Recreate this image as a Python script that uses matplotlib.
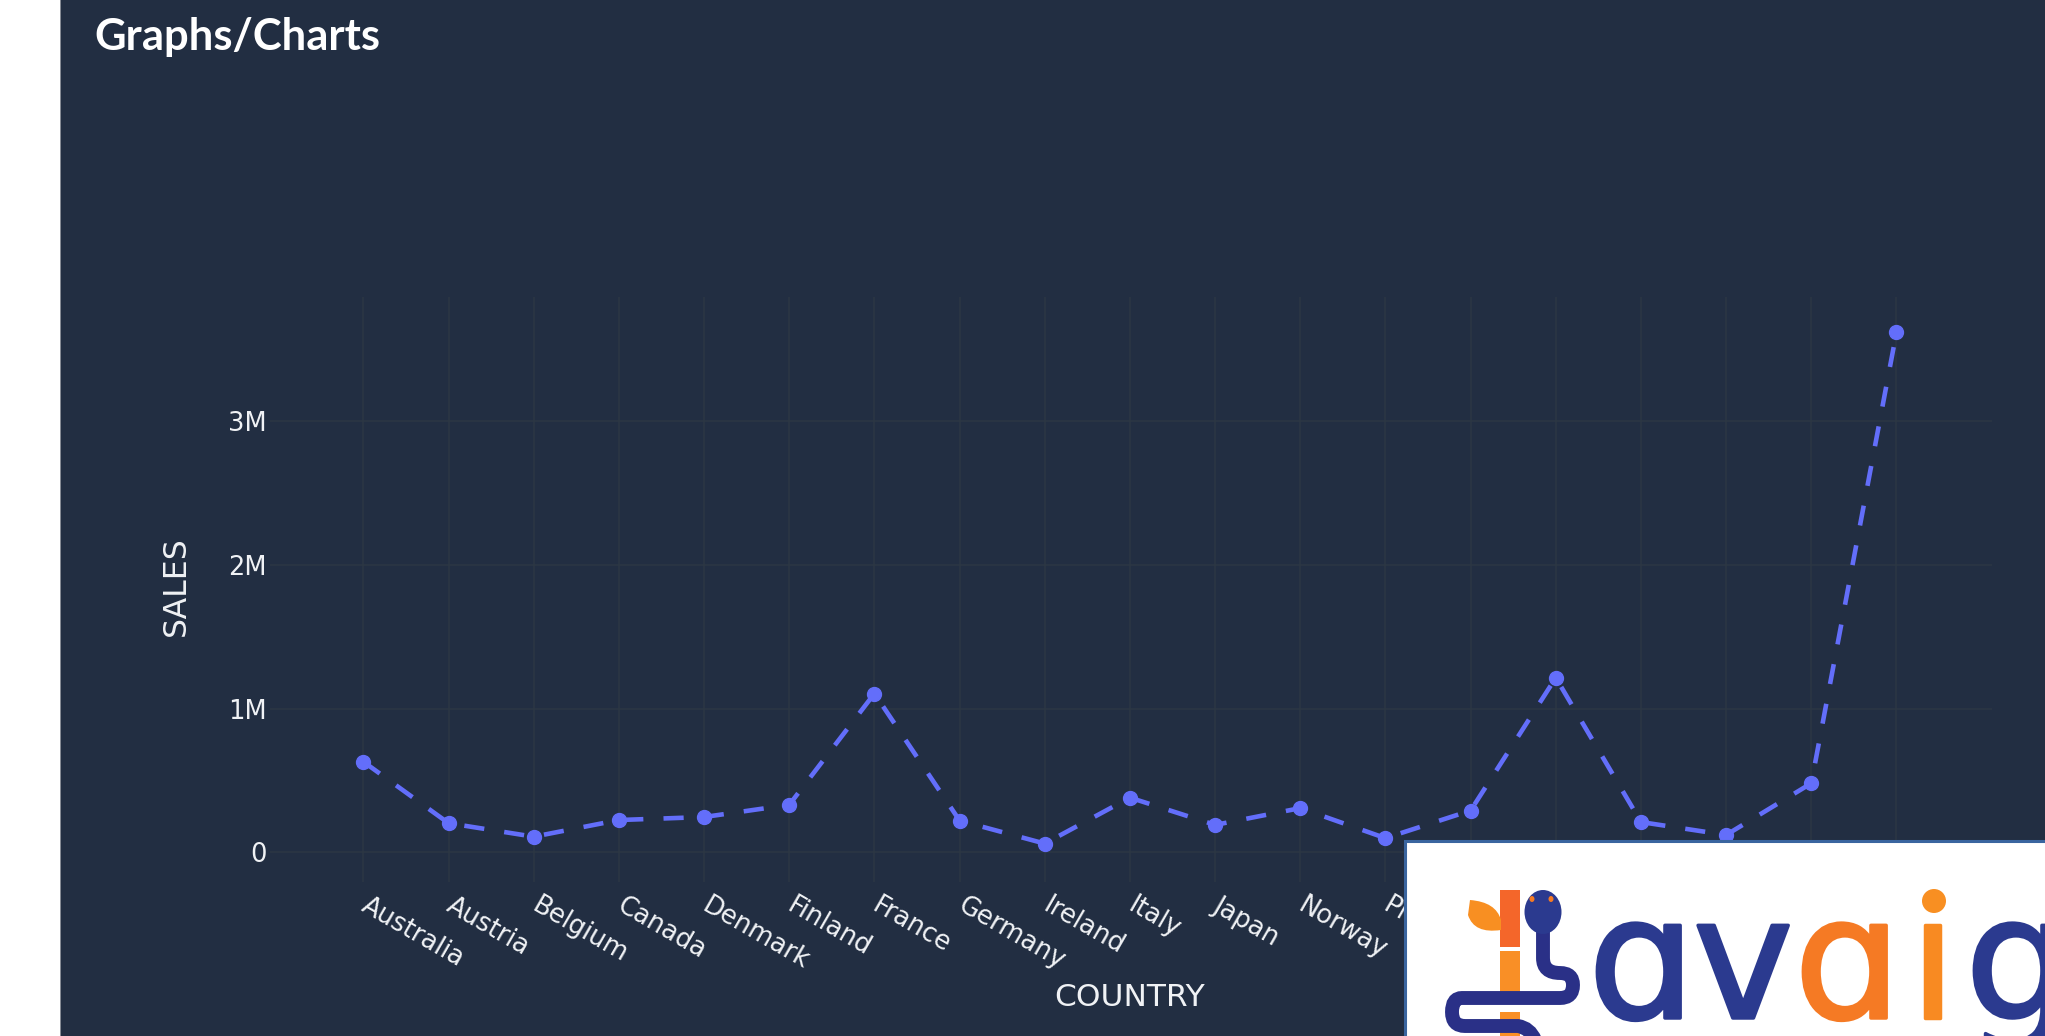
import matplotlib
matplotlib.use("Agg")
import matplotlib.pyplot as plt
import matplotlib.patheffects as pe
from matplotlib.patches import Rectangle, Ellipse, PathPatch
from matplotlib.path import Path

countries = ["Australia", "Austria", "Belgium", "Canada", "Denmark", "Finland", "France",
             "Germany", "Ireland", "Italy", "Japan", "Norway", "Philippines", "Singapore",
             "Spain", "Sweden", "Switzerland", "UK", "USA"]
sales = [630000, 202000, 108000, 224000, 245000, 330000, 1105000,
         220000, 60000, 380000, 190000, 307000, 98000, 290000,
         1215000, 210000, 120000, 480000, 3620000]
ytick_values = [0, 1000000, 2000000, 3000000]
ytick_labels = ["0", "1M", "2M", "3M"]

W, H = 2045, 1036
BG = "#222e42"
GRID = "#2c3744"
LINE = "#636efa"
TXT = "#f0f2f5"
BLUE = "#2b3a8f"
ORANGE = "#f57a24"

plt.rcParams["font.family"] = ["DejaVu Sans"]
fig = plt.figure(figsize=(W / 100, H / 100), dpi=100, facecolor="white")

# page panel
bgax = fig.add_axes([0, 0, 1, 1], zorder=0)
bgax.set_xlim(0, W); bgax.set_ylim(H, 0); bgax.axis("off")
bgax.add_patch(Rectangle((60, 0), W - 60, H, fc=BG, ec="none"))
bgax.plot([60, 60], [0, H], color="#8a8f98", lw=0.7)
bgax.text(94, 50, "Graphs/Charts", family="Lato", weight="bold", fontsize=31.4,
          color="white", ha="left", va="baseline")

# chart
L, R, T, B = 270, 1992, 297, 882
ax = fig.add_axes([L / W, 1 - B / H, (R - L) / W, (B - T) / H], zorder=1)
ax.patch.set_alpha(0)
x0, dx = 363.4, 85.17
y0, dy = 852.2, 143.6e-6
ax.set_xlim((L - x0) / dx, (R - x0) / dx)
ax.set_ylim((y0 - B) / dy, (y0 - T) / dy)
for s in ax.spines.values():
    s.set_visible(False)
ax.grid(True, color=GRID, lw=1.1)
ax.set_axisbelow(True)
ax.plot(range(len(countries)), sales, color=LINE, lw=3.3, dashes=(4.4, 4.4),
        dash_capstyle="butt", marker="o", ms=10, mec=LINE, mfc=LINE, clip_on=False)
ax.set_yticks(ytick_values, ytick_labels, fontsize=18.5, color=TXT)
ax.set_xticks(range(len(countries)), countries, fontsize=18.5, color=TXT,
              rotation=-30, ha="left", va="center", rotation_mode="anchor")
ax.tick_params(axis="both", length=0)
ax.tick_params(axis="y", pad=2.5)
ax.tick_params(axis="x", pad=15.5)
ax.set_xlabel("COUNTRY", fontsize=22.5, color=TXT, va="center")
ax.xaxis.set_label_coords((1130 - L) / (R - L), (B - 997) / (B - T))
ax.set_ylabel("SALES", fontsize=22.7, color=TXT, va="center")
ax.yaxis.set_label_coords((176 - L) / (R - L), (B - 586) / (B - T))

# logo card
lg = fig.add_axes([0, 0, 1, 1], zorder=2)
lg.set_xlim(0, W); lg.set_ylim(H, 0); lg.axis("off"); lg.patch.set_alpha(0)
lg.add_patch(Rectangle((1405, 841), W, H, fc="white", ec="#3a659f", lw=2.2))
for y1, y2, c in [(890, 947, "#f4662a"), (951, 1000, "#f98f26"), (1012, 1040, "#f98f26")]:
    lg.add_patch(Rectangle((1500, y1), 20, y2 - y1, fc=c, ec="none"))
leaf = Path([(1470, 900), (1496, 902), (1501, 920), (1501, 930), (1474, 934), (1468, 915), (1470, 900)],
            [Path.MOVETO, Path.CURVE3, Path.CURVE3, Path.LINETO, Path.CURVE3, Path.CURVE3, Path.CLOSEPOLY])
lg.add_patch(PathPatch(leaf, fc="#f88f22", ec="none"))
snake = Path([(1543, 930), (1543, 958), (1543, 973), (1560, 973), (1573, 973), (1573, 985),
              (1573, 998), (1560, 998), (1462, 998), (1452, 998), (1452, 1012), (1452, 1026),
              (1465, 1026), (1518, 1026), (1530, 1028), (1535, 1040)],
             [Path.MOVETO, Path.LINETO, Path.CURVE3, Path.CURVE3, Path.CURVE3, Path.CURVE3,
              Path.CURVE3, Path.CURVE3, Path.LINETO, Path.CURVE3, Path.CURVE3, Path.CURVE3,
              Path.CURVE3, Path.LINETO, Path.CURVE3, Path.CURVE3])
lg.add_patch(PathPatch(snake, fc="none", ec="#2a3087", lw=10, capstyle="round"))
lg.add_patch(Ellipse((1543, 912), 37, 44, fc=BLUE, ec="none"))
lg.add_patch(Ellipse((1532, 899), 5, 6, fc=ORANGE, ec="none"))
lg.add_patch(Ellipse((1551, 899), 5, 6, fc=ORANGE, ec="none"))
for x, s, c in [(1588, "\u0251", BLUE), (1693, "v", BLUE), (1794, "\u0251", ORANGE),
                (1909, "\u0131", "#f88a22"), (1965, "g", BLUE)]:
    lg.text(x, 1018, s, family="DejaVu Sans", fontsize=122, color=c, ha="left", va="baseline",
            clip_on=True, path_effects=[pe.withStroke(linewidth=2.5, foreground=c)])
lg.add_patch(Ellipse((1934, 901), 24, 24, fc="#f88f22", ec="none"))

fig.savefig("out.png", dpi=100, facecolor="white")
